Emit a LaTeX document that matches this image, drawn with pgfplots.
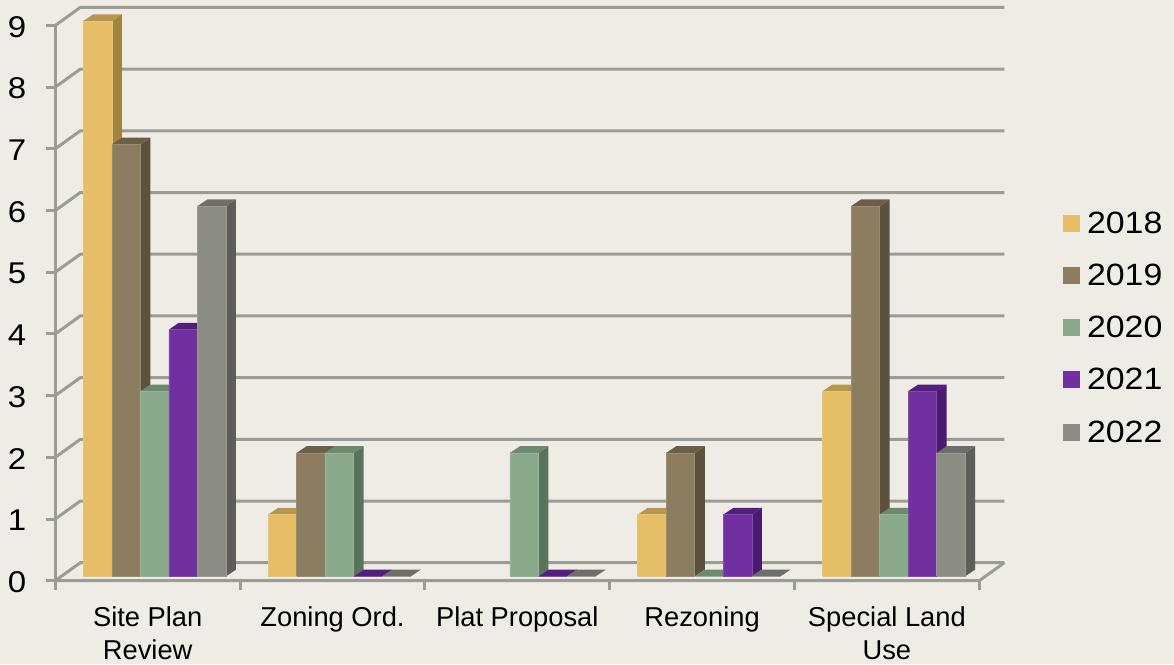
\documentclass[border=0pt]{standalone}
\usepackage{fontspec}
\usepackage{pgfplots}
\pgfplotsset{compat=1.18}
\setmainfont{Liberation Sans}
\newfontfamily\widefont[FakeStretch=1.1]{Liberation Sans}

\definecolor{paper}{HTML}{EEECE4}
\definecolor{wall}{HTML}{9C9C97}
\definecolor{yfront}{HTML}{E6BE68}
\definecolor{yside}{HTML}{A3843F}
\definecolor{ytop}{HTML}{B8964E}
\definecolor{bfront}{HTML}{8C7C60}
\definecolor{bside}{HTML}{5C503E}
\definecolor{btop}{HTML}{6C5F4A}
\definecolor{gfront}{HTML}{8AAA8C}
\definecolor{gside}{HTML}{58745A}
\definecolor{gtop}{HTML}{6C8A6E}
\definecolor{pfront}{HTML}{7030A0}
\definecolor{pside}{HTML}{4A1B70}
\definecolor{ptop}{HTML}{531E80}
\definecolor{sfront}{HTML}{8B8C84}
\definecolor{sside}{HTML}{5D5E5A}
\definecolor{stop}{HTML}{6E6F6A}

% One 3D column: category, slot inside the category, value, colour prefix
\newcommand{\solidbar}[4]{%
  \pgfmathsetmacro\xa{#1+0.1515+#2*0.1544}%
  \pgfmathsetmacro\xb{\xa+0.1544}%
  \pgfmathsetmacro\xc{\xb+0.0540}%
  \pgfmathsetmacro\xd{\xa+0.0540}%
  \pgfmathsetmacro\ya{0.071}%
  \pgfmathsetmacro\yb{\ya+0.1086}%
  \pgfmathsetmacro\yt{\ya+#3}%
  \pgfmathsetmacro\yu{\yt+0.1086}%
  \addplot[forget plot,fill=#4side,draw=none] coordinates {(\xb,\ya) (\xc,\yb) (\xc,\yu) (\xb,\yt) (\xb,\ya)};
  \addplot[forget plot,fill=#4top,draw=none] coordinates {(\xa,\yt) (\xb,\yt) (\xc,\yu) (\xd,\yu) (\xa,\yt)};
  \addplot[forget plot,fill=#4front,draw=#4front!85!paper,line width=0.6pt] coordinates {(\xa,\ya) (\xb,\ya) (\xb,\yt) (\xa,\yt) (\xa,\ya)};
}

\begin{document}
\begin{tikzpicture}[x=1pt,y=1pt]
\path[use as bounding box,fill=paper] (0,0) rectangle (1174,664);
\begin{axis}[
  at={(55.3pt,83.3pt)},anchor=south west,
  scale only axis,width=949pt,height=573.8pt,
  xmin=0,xmax=5.1353,ymin=0,ymax=9.3,
  clip=false,
  axis lines=left,
  axis line style={draw=none,-},
  xtick={0,1,2,3,4,5},
  x tick label as interval,
  xticklabels={{Site Plan\\Review},{Zoning Ord.},{Plat Proposal},{Rezoning},{Special Land\\Use}},
  xticklabel style={align=center,anchor=north,yshift=-13pt,
    font=\fontsize{27.3}{33}\selectfont},
  ytick={0,1,2,3,4,5,6,7,8,9},
  yticklabel style={font=\widefont\fontsize{30}{36}\selectfont,yshift=-1.5pt,xshift=-16.5pt},
  /pgf/number format/assume math mode=true,
  tick align=outside,
  major tick length=9pt,
  tick style={draw=wall,line width=3pt},
  legend cell align=left,
  legend style={
    at={(axis description cs:1.0617,0.441)},anchor=west,
    draw=none,fill=none,inner xsep=0pt,inner ysep=0pt,
    font=\widefont\fontsize{30.8}{30.8}\selectfont,
    row sep=29.2pt,
    nodes={inner xsep=0pt,inner ysep=0pt},
  },
  % The invisible stretch sets the gap between swatch and year
  legend image code/.code={\fill[#1,draw=none] (0pt,-8.5pt) rectangle (17pt,8.5pt);\path[draw=none,fill=none] (0pt,0pt) -- (24pt,0pt);},
]
% Walls and floor of the chart box
\addplot[forget plot,draw=wall,line width=3pt] coordinates {(0,0) (0,9)};
\addplot[forget plot,draw=wall,line width=3pt] coordinates {(0,0) (5,0) (5.1353,0.2917)};
\pgfplotsinvokeforeach{0,1,2,3,4,5,6,7,8,9}{%
  \pgfmathsetmacro\yy{#1+0.2917}%
  \addplot[forget plot,draw=wall,line width=3pt] coordinates {(0,#1) (0.1353,\yy) (5.1353,\yy)};
}

% Site Plan Review
\solidbar{0}{0}{9}{y}
\solidbar{0}{1}{7}{b}
\solidbar{0}{2}{3}{g}
\solidbar{0}{3}{4}{p}
\solidbar{0}{4}{6}{s}
% Zoning Ord.
\solidbar{1}{0}{1}{y}
\solidbar{1}{1}{2}{b}
\solidbar{1}{2}{2}{g}
\solidbar{1}{3}{0}{p}
\solidbar{1}{4}{0}{s}
% Plat Proposal
\solidbar{2}{2}{2}{g}
\solidbar{2}{3}{0}{p}
\solidbar{2}{4}{0}{s}
% Rezoning
\solidbar{3}{0}{1}{y}
\solidbar{3}{1}{2}{b}
\solidbar{3}{2}{0}{g}
\solidbar{3}{3}{1}{p}
\solidbar{3}{4}{0}{s}
% Special Land Use
\solidbar{4}{0}{3}{y}
\solidbar{4}{1}{6}{b}
\solidbar{4}{2}{1}{g}
\solidbar{4}{3}{3}{p}
\solidbar{4}{4}{2}{s}

\addlegendimage{fill=yfront}\addlegendentry{2018}
\addlegendimage{fill=bfront}\addlegendentry{2019}
\addlegendimage{fill=gfront}\addlegendentry{2020}
\addlegendimage{fill=pfront}\addlegendentry{2021}
\addlegendimage{fill=sfront}\addlegendentry{2022}
\end{axis}
\end{tikzpicture}
\end{document}
